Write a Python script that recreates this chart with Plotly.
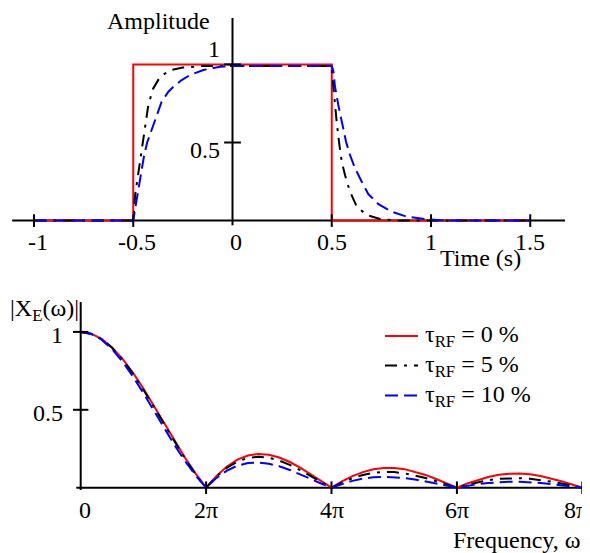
import numpy as np
import plotly.graph_objects as go

# ---------------- Data: time domain (top panel) ----------------
t_ideal = [-1.0, -0.5, -0.5, 0.5, 0.5, 1.5]
amp_ideal = [0, 0, 1, 1, 0, 0]

t_rf5 = [-1.0, -0.5, -0.49, -0.475, -0.458, -0.445, -0.435, -0.424, -0.40, -0.365,
         -0.315, -0.25, -0.15, 0.0, 0.5, 0.505, 0.516, 0.525, 0.538, 0.55, 0.567,
         0.592, 0.626, 0.676, 0.743, 0.84, 1.5]
amp_rf5 = [0, 0, 0.17, 0.30, 0.43, 0.56, 0.65, 0.74, 0.845, 0.92,
           0.963, 0.98, 0.99, 0.99, 0.99, 0.90, 0.74, 0.63, 0.49, 0.38, 0.29,
           0.185, 0.09, 0.036, 0.01, 0.0, 0.0]

t_rf10 = [-1.0, -0.5, -0.49, -0.475, -0.46, -0.445, -0.43, -0.407, -0.382, -0.357,
          -0.323, -0.298, -0.256, -0.214, -0.147, -0.063, 0.0, 0.5,
          0.508, 0.516, 0.533, 0.55, 0.572, 0.592, 0.617, 0.651, 0.684, 0.735,
          0.802, 0.878, 0.978, 1.08, 1.5]
amp_rf10 = [0, 0, 0.08, 0.19, 0.32, 0.42, 0.50, 0.58, 0.676, 0.761,
            0.825, 0.857, 0.90, 0.932, 0.964, 0.985, 0.99, 0.99,
            0.96, 0.86, 0.74, 0.633, 0.505, 0.42, 0.335, 0.249, 0.17, 0.105,
            0.057, 0.025, 0.008, 0.0, 0.0]

time_tick_vals = [-1, -0.5, 0, 0.5, 1, 1.5]
time_tick_text = ["-1", "-0.5", "0", "0.5", "1", "1.5"]
amp_tick_vals = [0.5, 1]
amp_tick_text = ["0.5", "1"]

# ---------------- Data: frequency domain (bottom panel) ----------------
omega_over_pi = np.linspace(0, 8, 49)  # sampling grid, in units of pi
mag_rf0 = [1.000, 0.989, 0.955, 0.900, 0.827, 0.738, 0.637, 0.527, 0.414, 0.300, 0.191, 0.090,
           0.000, 0.076, 0.136, 0.180, 0.207, 0.217, 0.212, 0.194, 0.165, 0.129, 0.087, 0.043,
           0.000, 0.040, 0.074, 0.100, 0.118, 0.127, 0.127, 0.119, 0.103, 0.082, 0.056, 0.028,
           0.000, 0.027, 0.050, 0.069, 0.083, 0.090, 0.091, 0.086, 0.075, 0.060, 0.042, 0.021,
           0.000]
mag_rf5 = [1.000, 0.988, 0.954, 0.898, 0.823, 0.732, 0.629, 0.518, 0.405, 0.292, 0.185, 0.086,
           0.000, 0.072, 0.128, 0.168, 0.191, 0.198, 0.192, 0.174, 0.147, 0.113, 0.075, 0.037,
           0.000, 0.033, 0.061, 0.082, 0.095, 0.101, 0.100, 0.092, 0.079, 0.062, 0.042, 0.021,
           0.000, 0.019, 0.036, 0.048, 0.057, 0.061, 0.061, 0.057, 0.049, 0.039, 0.027, 0.013,
           0.000]
mag_rf10 = [1.000, 0.987, 0.950, 0.889, 0.809, 0.714, 0.607, 0.495, 0.381, 0.271, 0.169, 0.078,
            0.000, 0.063, 0.110, 0.142, 0.158, 0.162, 0.154, 0.138, 0.114, 0.087, 0.057, 0.027,
            0.000, 0.024, 0.044, 0.058, 0.067, 0.070, 0.068, 0.062, 0.053, 0.041, 0.028, 0.014,
            0.000, 0.012, 0.023, 0.030, 0.036, 0.038, 0.038, 0.035, 0.030, 0.023, 0.016, 0.008,
            0.000]

freq_tick_vals = [0, 2, 4, 6, 8]
freq_tick_text = ["0", "2π", "4π", "6π", "8π"]
mag_tick_vals = [0.5, 1]
mag_tick_text = ["0.5", "1"]

series_names = ["τ<sub>RF</sub> = 0 %", "τ<sub>RF</sub> = 5 %", "τ<sub>RF</sub> = 10 %"]
series_colors = ["#ff0000", "#000000", "#0000ff"]
series_dash = ["solid", "12px,7px,3px,7px", "13px,6px"]

FONT = "Liberation Serif"
FS = 24
W, H = 582, 545  # page body adds an 8 px offset

fig = go.Figure()

# top panel curves
for tt, aa, col, dsh in zip([t_ideal, t_rf5, t_rf10], [amp_ideal, amp_rf5, amp_rf10],
                            series_colors, series_dash):
    fig.add_trace(go.Scatter(x=tt, y=aa, mode="lines", xaxis="x", yaxis="y",
                             line=dict(color=col, width=2, dash=dsh),
                             showlegend=False, hoverinfo="skip"))

# bottom panel curves
for mm, nm, col, dsh in zip([mag_rf0, mag_rf5, mag_rf10], series_names, series_colors, series_dash):
    fig.add_trace(go.Scatter(x=omega_over_pi, y=mm, mode="lines", xaxis="x2", yaxis="y2",
                             name=nm, line=dict(color=col, width=2, dash=dsh),
                             showlegend=False))

# tick marks (crossing the axes)
def tick_marker(sym, size):
    return dict(symbol=sym, size=size, color="black", line=dict(color="black", width=2))

fig.add_trace(go.Scatter(x=[v for v in time_tick_vals if v != 0], y=[0] * 5, mode="markers",
                         xaxis="x", yaxis="y", marker=tick_marker("line-ns-open", 9),
                         showlegend=False, hoverinfo="skip"))
fig.add_trace(go.Scatter(x=[0] * len(amp_tick_vals), y=amp_tick_vals, mode="markers",
                         xaxis="x", yaxis="y", marker=tick_marker("line-ew-open", 12),
                         showlegend=False, hoverinfo="skip"))
fig.add_trace(go.Scatter(x=freq_tick_vals[1:], y=[0] * 4, mode="markers",
                         xaxis="x2", yaxis="y2", marker=tick_marker("line-ns-open", 9),
                         showlegend=False, hoverinfo="skip"))
fig.add_trace(go.Scatter(x=[0] * len(mag_tick_vals), y=mag_tick_vals, mode="markers",
                         xaxis="x2", yaxis="y2", marker=tick_marker("line-ew-open", 11),
                         showlegend=False, hoverinfo="skip"))

# axis lines
axline = dict(color="black", width=2)
shapes = [
    dict(type="line", xref="x", yref="y", x0=-1.11, x1=1.675, y0=0, y1=0, line=axline, layer="below"),
    dict(type="line", xref="x", yref="y", x0=0, x1=0, y0=-0.03, y1=1.297, line=axline, layer="below"),
    dict(type="line", xref="x2", yref="y2", x0=-0.07, x1=8, y0=0, y1=0, line=axline, layer="below"),
    dict(type="line", xref="x2", yref="y2", x0=0, x1=0, y0=-0.015, y1=1.192, line=axline, layer="below"),
]

tf = dict(family=FONT, size=FS, color="black")
ann = []
# top x tick labels
for v, s in zip(time_tick_vals, time_tick_text):
    ann.append(dict(x=v, y=-0.134, xref="x", yref="y", text=s, showarrow=False, font=tf,
                    xanchor="center", yanchor="middle", xshift=(4 if v < 0 else 0) + (3 if v == 0 else 0)))
# top y tick labels
ann.append(dict(x=-0.055, y=0.455, xref="x", yref="y", text=amp_tick_text[0], showarrow=False,
                font=tf, xanchor="right", yanchor="middle"))
ann.append(dict(x=-0.055, y=1.099, xref="x", yref="y", text=amp_tick_text[1], showarrow=False,
                font=tf, xanchor="right", yanchor="middle"))
ann.append(dict(x=-0.103, y=1.278, xref="x", yref="y", text="Amplitude", showarrow=False,
                font=tf, xanchor="right", yanchor="middle"))
ann.append(dict(x=1.035, y=-0.239, xref="x", yref="y", text="Time (s)", showarrow=False,
                font=tf, xanchor="left", yanchor="middle"))
# bottom x tick labels
for v, s in zip(freq_tick_vals, freq_tick_text):
    ann.append(dict(x=v, y=-0.140, xref="x2", yref="y2", text=s, showarrow=False, font=tf,
                    xanchor="center", yanchor="middle",
                    xshift=(4 if v == 0 else 0) + (-6 if v == 8 else 0)))
for v, s in zip(mag_tick_vals, mag_tick_text):
    ann.append(dict(x=-0.25, y=v - 0.02, xref="x2", yref="y2", text=s, showarrow=False, font=tf,
                    xanchor="right", yanchor="middle"))
ann.append(dict(x=-1.159, y=1.14, xref="x2", yref="y2", text="|X<sub>E</sub>(ω)|", showarrow=False,
                font=tf, xanchor="left", yanchor="middle"))
ann.append(dict(x=8.012, y=-0.336, xref="x2", yref="y2", text="Frequency, ω", showarrow=False,
                font=tf, xanchor="right", yanchor="middle"))

# legend (drawn as key lines + text, positioned in paper space)
leg_x0, leg_x1, leg_tx = 377 / W, 410 / W, 415 / W
leg_rows = [1 - 328 / H, 1 - 357.5 / H, 1 - 387.5 / H]
for nm, col, dsh, yy in zip(series_names, series_colors, series_dash, leg_rows):
    shapes.append(dict(type="line", xref="paper", yref="paper", x0=leg_x0, x1=leg_x1, y0=yy, y1=yy,
                       line=dict(color=col, width=2, dash=dsh)))
    ann.append(dict(x=leg_tx, y=yy, xref="paper", yref="paper", text=nm, showarrow=False,
                    font=tf, xanchor="left", yanchor="middle"))

fig.update_layout(
    width=W, height=H, autosize=False,
    margin=dict(l=0, r=0, t=0, b=0),
    paper_bgcolor="white", plot_bgcolor="white",
    font=dict(family=FONT, size=FS, color="black"),
    xaxis=dict(domain=[0, 1], range=[-1.1310, 1.8010], visible=False, anchor="y"),
    yaxis=dict(domain=[0.53761, 1], range=[-0.2522, 1.3611], visible=False, anchor="x"),
    xaxis2=dict(domain=[0, 1], range=[-1.1595, 8.1228], visible=False, anchor="y2"),
    yaxis2=dict(domain=[0, 0.51927], range=[-0.4191, 1.3973], visible=False, anchor="x2"),
    shapes=shapes,
    annotations=ann,
    showlegend=False,
)

fig.write_html("out.html")
